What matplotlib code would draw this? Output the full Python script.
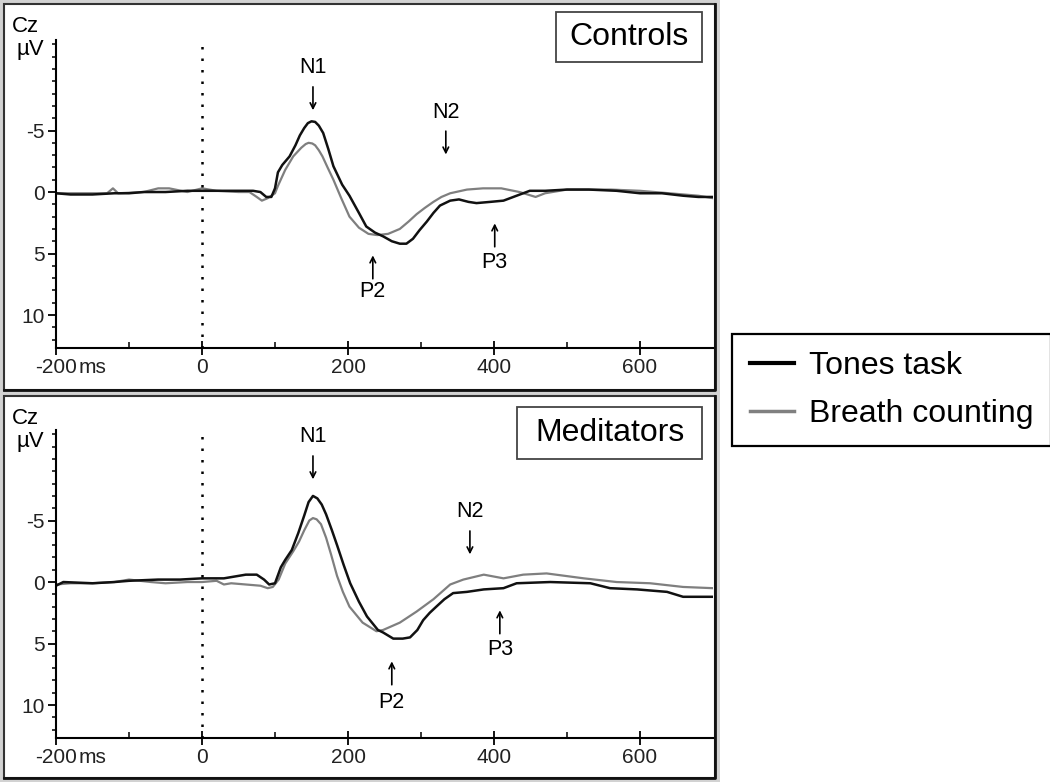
import matplotlib
matplotlib.use("Agg")
import matplotlib.pyplot as plt
from matplotlib.patches import Rectangle
from matplotlib.lines import Line2D

plt.rcParams['font.family'] = ['Liberation Sans', 'DejaVu Sans']

# ERP traces at Cz (microvolts, negative up)
ctl_tones_t = [-200, -180, -150, -120, -100, -80, -50, -20, 0, 20, 50, 70, 80, 88, 95, 100, 104,
               110, 120, 128, 134, 140, 145, 150, 155, 160, 166, 173, 180, 192, 202, 215, 225,
               237, 248, 260, 271, 280, 289, 298, 308, 317, 326, 340, 352, 365, 376, 395, 413,
               431, 449, 470, 500, 530, 568, 600, 630, 659, 680, 700]
ctl_tones_v = [0.1, 0.2, 0.2, 0.1, 0.1, 0.0, 0.0, -0.1, -0.1, -0.1, -0.1, -0.1, 0.0, 0.4, 0.4, -0.3,
               -1.6, -2.2, -2.9, -3.8, -4.6, -5.2, -5.6, -5.75, -5.7, -5.4, -4.8, -3.5, -2.1,
               -0.6, 0.3, 1.7, 2.8, 3.3, 3.6, 4.0, 4.2, 4.2, 3.8, 3.1, 2.4, 1.7, 1.1, 0.7, 0.6,
               0.8, 0.9, 0.8, 0.7, 0.3, -0.1, -0.1, -0.2, -0.2, -0.1, 0.1, 0.1, 0.3, 0.4, 0.4]

ctl_breath_t = [-200, -170, -130, -122, -115, -80, -60, -45, -20, 0, 20, 50, 65, 75, 82, 90, 100,
                104, 114, 125, 136, 142, 146, 151, 155, 160, 165, 172, 180, 190, 202, 215, 228,
                240, 255, 271, 283, 294, 305, 317, 328, 340, 363, 385, 410, 435, 457, 470, 500,
                530, 560, 600, 640, 680, 700]
ctl_breath_v = [0.1, 0.1, 0.1, -0.3, 0.1, 0.0, -0.3, -0.3, 0.0, -0.3, -0.1, 0.0, 0.0, 0.4, 0.7,
                0.5, 0.1, -0.5, -1.8, -2.9, -3.6, -3.9, -4.0, -3.95, -3.8, -3.4, -2.9, -2.0, -1.0,
                0.4, 2.0, 2.9, 3.4, 3.5, 3.4, 3.0, 2.4, 1.8, 1.3, 0.8, 0.4, 0.1, -0.2, -0.3, -0.3,
                0.0, 0.4, 0.1, -0.2, -0.2, -0.2, -0.1, 0.1, 0.3, 0.5]

med_tones_t = [-200, -190, -150, -120, -100, -60, -30, 0, 30, 50, 60, 75, 85, 92, 100, 108, 114,
               123, 132, 140, 146, 152, 158, 164, 170, 178, 185, 194, 203, 215, 226, 241, 248,
               262, 275, 285, 295, 303, 312, 321, 332, 344, 363, 386, 413, 431, 477, 532, 559,
               596, 637, 659, 700]
med_tones_v = [0.3, 0.0, 0.1, 0.0, -0.1, -0.2, -0.2, -0.3, -0.3, -0.5, -0.6, -0.6, -0.2, 0.2, 0.1,
               -1.2, -1.8, -2.6, -4.0, -5.4, -6.5, -7.0, -6.8, -6.3, -5.5, -4.2, -3.0, -1.4, 0.1,
               1.6, 2.8, 3.9, 4.1, 4.6, 4.6, 4.5, 3.9, 3.1, 2.5, 2.0, 1.4, 0.9, 0.8, 0.6, 0.5,
               0.1, 0.0, 0.1, 0.5, 0.6, 0.8, 1.2, 1.2]

med_breath_t = [-200, -180, -150, -120, -100, -70, -50, -20, 0, 20, 30, 40, 60, 80, 90, 97, 105,
                114, 125, 133, 140, 147, 152, 157, 163, 170, 177, 185, 193, 202, 220, 239, 248,
                271, 294, 317, 340, 358, 386, 413, 440, 472, 523, 568, 614, 659, 700]
med_breath_v = [0.2, 0.1, 0.1, 0.0, -0.2, 0.0, 0.1, 0.0, 0.0, -0.1, 0.2, 0.1, 0.2, 0.3, 0.5, 0.4,
                -0.2, -1.5, -2.5, -3.3, -4.2, -5.0, -5.2, -5.1, -4.7, -3.6, -2.2, -0.5, 0.8, 2.0,
                3.3, 4.0, 3.9, 3.3, 2.4, 1.4, 0.2, -0.2, -0.6, -0.3, -0.6, -0.7, -0.3, 0.0, 0.1,
                0.4, 0.5]

xticks = [-200, 0, 200, 400, 600]
xticklabels = ['-200', '0', '200', '400', '600']
yticks = [-5, 0, 5, 10]

# component labels: (name, time, text value, arrow centre value, direction)
ctl_peaks = [('N1', 152, -10.1, -7.6, 'down'), ('N2', 334, -6.5, -4.0, 'down'),
             ('P2', 234, 8.1, 6.1, 'up'), ('P3', 401, 5.7, 3.5, 'up')]
med_peaks = [('N1', 152, -11.8, -9.3, 'down'), ('N2', 367, -5.7, -3.2, 'down'),
             ('P2', 260, 9.8, 7.4, 'up'), ('P3', 408, 5.5, 3.25, 'up')]

panels = [
    ('Controls', ctl_tones_t, ctl_tones_v, ctl_breath_t, ctl_breath_v, ctl_peaks),
    ('Meditators', med_tones_t, med_tones_v, med_breath_t, med_breath_v, med_peaks),
]

W, H = 1050, 782
fig = plt.figure(figsize=(10.5, 7.82), dpi=100)


def fx(px):
    return px / W


def fy(py):
    return 1 - py / H


# window-like frames behind the two panels
fig.add_artist(Rectangle((0, 0), fx(720), 1, transform=fig.transFigure,
                         facecolor='#d2d2d2', edgecolor='none', zorder=-3))
frames = [(4, 4, 715, 390), (4, 396, 715, 778)]
for x0, y0, x1, y1 in frames:
    fig.add_artist(Rectangle((fx(x0), fy(y1)), fx(x1 - x0), (y1 - y0) / H,
                             transform=fig.transFigure, facecolor='white',
                             edgecolor='#333333', lw=1.5, zorder=-2))
    # darker right / bottom edges
    fig.add_artist(Line2D([fx(x0), fx(x1), fx(x1)], [fy(y1), fy(y1), fy(y0)],
                          transform=fig.transFigure, color='#111111', lw=2, zorder=-1))

# axes boxes in pixels: left, top, right, bottom
ax_boxes = [(56, 40, 713, 348), (56, 430, 713, 738)]
name_boxes = [(556, 12, 702, 62), (517, 407, 702, 459)]

for (name, tt, tv, bt, bv, peaks), (l, t, r, b), (bx0, by0, bx1, by1), (fx0, fy0, _, _) in zip(
        panels, ax_boxes, name_boxes, frames):
    ax = fig.add_axes([fx(l), fy(b), fx(r - l), (b - t) / H])
    ax.patch.set_visible(False)
    ax.plot(bt, bv, color='#7f7f7f', lw=1.6)
    ax.plot(tt, tv, color='#111111', lw=1.8)
    ax.axvline(0, color='black', lw=1.8, linestyle=(0, (1, 3.6)))

    ax.set_xlim(-200, 700)
    ax.set_ylim(12.68, -12.36)
    for s in ['top', 'right']:
        ax.spines[s].set_visible(False)
    for s in ['left', 'bottom']:
        ax.spines[s].set_linewidth(1.5)

    ax.set_xticks(xticks)
    ax.set_xticklabels(xticklabels)
    ax.set_xticks([-100, 100, 300, 500], minor=True)
    ax.set_yticks(yticks)
    ax.set_yticklabels([str(v) for v in yticks])
    ax.set_yticks(range(-12, 13), minor=True)
    ax.tick_params(axis='y', which='major', direction='out', length=6, width=1.3,
                   labelsize=15, pad=2, labelcolor='#222222')
    ax.tick_params(axis='y', which='minor', direction='out', length=3, width=1.1)
    ax.tick_params(axis='x', which='major', direction='inout', length=10, width=1.3,
                   labelsize=15, pad=2, labelcolor='#222222')
    ax.tick_params(axis='x', which='minor', direction='in', length=4, width=1.1)
    ax.annotate('ms', xy=(-200, 0), xycoords=ax.get_xaxis_transform(),
                xytext=(16, -7), textcoords='offset points', ha='left', va='top',
                fontsize=15, color='#222222')

    for lab, px, vt, vc, d in peaks:
        ax.text(px, vt, lab, ha='center', va='center', fontsize=15.5)
        tip, tail = (vc + 0.95, vc - 0.95) if d == 'down' else (vc - 0.95, vc + 0.95)
        ax.annotate('', xy=(px, tip), xytext=(px, tail),
                    arrowprops=dict(arrowstyle='->', lw=1.2, color='black',
                                    mutation_scale=10, shrinkA=0, shrinkB=0))

    # group name box
    fig.add_artist(Rectangle((fx(bx0), fy(by1)), fx(bx1 - bx0), (by1 - by0) / H,
                             transform=fig.transFigure, facecolor='white',
                             edgecolor='#444444', lw=1.3))
    fig.text(fx((bx0 + bx1) / 2), fy((by0 + by1) / 2), name, ha='center', va='center',
             fontsize=23)

    fig.text(fx(12), fy(fy0 + 23), 'Cz', ha='left', va='center', fontsize=16)
    fig.text(fx(16), fy(fy0 + 45), '\u00b5V', ha='left', va='center', fontsize=16)

handles = [Line2D([], [], color='black', lw=3), Line2D([], [], color='#808080', lw=2.5)]
leg = fig.legend(handles, ['Tones task', 'Breath counting'], loc='center',
                 bbox_to_anchor=(fx(891.5), fy(390)), fontsize=23, handlelength=1.4,
                 handletextpad=0.45, borderpad=0.55, labelspacing=0.55, fancybox=False,
                 edgecolor='black', framealpha=1)
leg.get_frame().set_linewidth(1.6)

fig.savefig('out.png', dpi=100)
